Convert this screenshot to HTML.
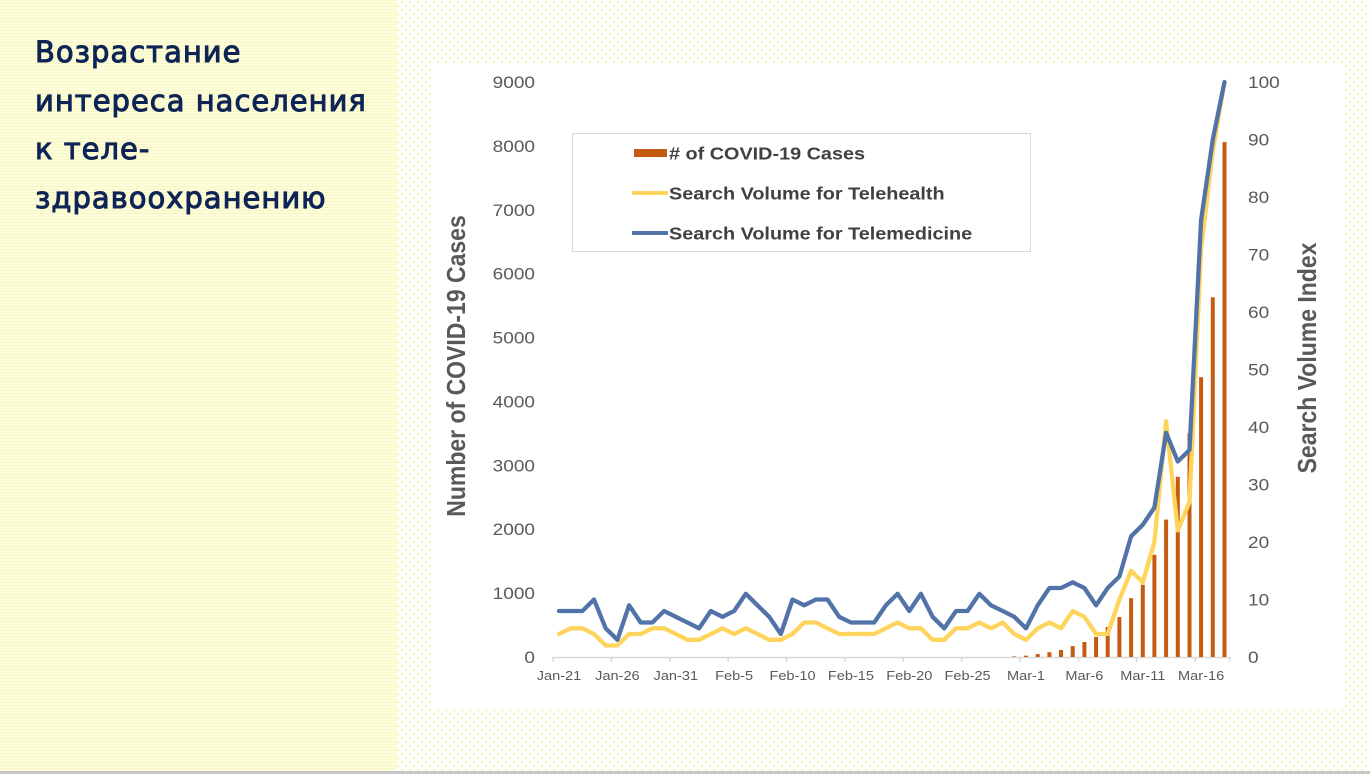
<!DOCTYPE html>
<html>
<head>
<meta charset="utf-8">
<style>
  html, body { margin: 0; padding: 0; }
  body { width: 1370px; height: 774px; overflow: hidden; background: #ffffff; }
  svg { display: block; }
</style>
</head>
<body>
<svg width="1370" height="774" viewBox="0 0 1370 774" xmlns="http://www.w3.org/2000/svg">
  <defs>
    <pattern id="dots" x="0" y="0" width="8" height="8" patternUnits="userSpaceOnUse">
      <rect width="8" height="8" fill="#ffffff"/>
      <rect x="1.5" y="1.5" width="1.6" height="1.6" fill="#e6ef86"/>
      <rect x="5.5" y="5.5" width="1.6" height="1.6" fill="#e6ef86"/>
    </pattern>
    <pattern id="stripes" x="0" y="0" width="4" height="3" patternUnits="userSpaceOnUse">
      <rect width="4" height="3" fill="#fdfdd9"/>
      <rect y="0" width="4" height="1" fill="#f7f7c6"/>
    </pattern>
  </defs>

  <!-- backgrounds -->
  <rect x="0" y="0" width="1370" height="774" fill="url(#dots)"/>
  <rect x="0" y="0" width="397" height="774" fill="url(#stripes)"/>
  <rect x="0" y="771" width="1370" height="3" fill="#c6c6c6"/>

  <!-- title -->
  <g font-family="DejaVu Sans, Liberation Sans, sans-serif" font-size="29" fill="#0e2456" stroke="#0e2456" stroke-width="1.0" letter-spacing="1.0">
    <text x="35" y="62">Возрастание</text>
    <text x="35" y="111">интереса населения</text>
    <text x="35" y="159">к теле-</text>
    <text x="35" y="208">здравоохранению</text>
  </g>

  <!-- chart white box -->
  <rect x="432" y="65" width="911" height="642" fill="#ffffff"/>

  <!-- legend -->
  <rect x="572.5" y="133.5" width="458" height="118" fill="#ffffff" stroke="#d9d9d9" stroke-width="1"/>
  <rect x="634" y="149" width="33" height="8" fill="#c55a11"/>
  <line x1="632" y1="193" x2="668" y2="193" stroke="#ffd45c" stroke-width="4"/>
  <line x1="632" y1="233" x2="668" y2="233" stroke="#5273a8" stroke-width="4"/>
  <g font-family="Liberation Sans, Arial, sans-serif" font-size="17.7" font-weight="bold" fill="#404040">
    <text transform="translate(669 159.5) scale(1.12 1)"># of COVID-19 Cases</text>
    <text transform="translate(669 199.5) scale(1.12 1)">Search Volume for Telehealth</text>
    <text transform="translate(669 239.5) scale(1.12 1)">Search Volume for Telemedicine</text>
  </g>

  <!-- x axis -->
  <line x1="553" y1="657.5" x2="1230" y2="657.5" stroke="#d9d9d9" stroke-width="1.5"/>
  <g stroke="#d9d9d9" stroke-width="1.5">
    <line x1="553" y1="657" x2="553" y2="662"/>
    <line x1="611.4" y1="657" x2="611.4" y2="662"/>
    <line x1="669.8" y1="657" x2="669.8" y2="662"/>
    <line x1="728.1" y1="657" x2="728.1" y2="662"/>
    <line x1="786.5" y1="657" x2="786.5" y2="662"/>
    <line x1="844.9" y1="657" x2="844.9" y2="662"/>
    <line x1="903.3" y1="657" x2="903.3" y2="662"/>
    <line x1="961.6" y1="657" x2="961.6" y2="662"/>
    <line x1="1020" y1="657" x2="1020" y2="662"/>
    <line x1="1078.4" y1="657" x2="1078.4" y2="662"/>
    <line x1="1136.8" y1="657" x2="1136.8" y2="662"/>
    <line x1="1195.1" y1="657" x2="1195.1" y2="662"/>
    <line x1="1230" y1="657" x2="1230" y2="662"/>
  </g>
  <g font-family="Liberation Sans, Arial, sans-serif" font-size="13" fill="#595959" text-anchor="middle">
    <text transform="translate(559 680) scale(1.12 1)">Jan-21</text>
    <text transform="translate(617.4 680) scale(1.12 1)">Jan-26</text>
    <text transform="translate(675.8 680) scale(1.12 1)">Jan-31</text>
    <text transform="translate(734.1 680) scale(1.12 1)">Feb-5</text>
    <text transform="translate(792.5 680) scale(1.12 1)">Feb-10</text>
    <text transform="translate(850.9 680) scale(1.12 1)">Feb-15</text>
    <text transform="translate(909.3 680) scale(1.12 1)">Feb-20</text>
    <text transform="translate(967.6 680) scale(1.12 1)">Feb-25</text>
    <text transform="translate(1026 680) scale(1.12 1)">Mar-1</text>
    <text transform="translate(1084.4 680) scale(1.12 1)">Mar-6</text>
    <text transform="translate(1142.8 680) scale(1.12 1)">Mar-11</text>
    <text transform="translate(1201.1 680) scale(1.12 1)">Mar-16</text>
  </g>

  <!-- left axis labels -->
  <g font-family="Liberation Sans, Arial, sans-serif" font-size="17" fill="#595959" text-anchor="end">
    <text transform="translate(535 663) scale(1.12 1)">0</text>
    <text transform="translate(535 599.1) scale(1.12 1)">1000</text>
    <text transform="translate(535 535.2) scale(1.12 1)">2000</text>
    <text transform="translate(535 471.3) scale(1.12 1)">3000</text>
    <text transform="translate(535 407.4) scale(1.12 1)">4000</text>
    <text transform="translate(535 343.6) scale(1.12 1)">5000</text>
    <text transform="translate(535 279.7) scale(1.12 1)">6000</text>
    <text transform="translate(535 215.8) scale(1.12 1)">7000</text>
    <text transform="translate(535 151.9) scale(1.12 1)">8000</text>
    <text transform="translate(535 88) scale(1.12 1)">9000</text>
  </g>

  <!-- right axis labels -->
  <g font-family="Liberation Sans, Arial, sans-serif" font-size="17" fill="#595959" text-anchor="start">
    <text transform="translate(1248 663) scale(1.12 1)">0</text>
    <text transform="translate(1248 605.5) scale(1.12 1)">10</text>
    <text transform="translate(1248 548) scale(1.12 1)">20</text>
    <text transform="translate(1248 490.5) scale(1.12 1)">30</text>
    <text transform="translate(1248 433) scale(1.12 1)">40</text>
    <text transform="translate(1248 375.5) scale(1.12 1)">50</text>
    <text transform="translate(1248 318) scale(1.12 1)">60</text>
    <text transform="translate(1248 260.5) scale(1.12 1)">70</text>
    <text transform="translate(1248 203) scale(1.12 1)">80</text>
    <text transform="translate(1248 145.5) scale(1.12 1)">90</text>
    <text transform="translate(1248 88) scale(1.12 1)">100</text>
  </g>

  <!-- axis titles -->
  <g font-family="Liberation Sans, Arial, sans-serif" font-size="23" font-weight="bold" fill="#595959" text-anchor="middle">
    <text transform="translate(465 366) scale(1.12 1) rotate(-90)">Number of COVID-19 Cases</text>
    <text transform="translate(1316 358) scale(1.12 1) rotate(-90)">Search Volume Index</text>
  </g>

  <!-- bars -->
  <g fill="#c55a11">
    <rect x="1012.3" y="656.4" width="4" height="0.6"/>
    <rect x="1024" y="655.7" width="4" height="1.3"/>
    <rect x="1035.7" y="654.1" width="4" height="2.9"/>
    <rect x="1047.4" y="652.2" width="4" height="4.8"/>
    <rect x="1059" y="650" width="4" height="7"/>
    <rect x="1070.7" y="646.1" width="4" height="10.9"/>
    <rect x="1082.4" y="642" width="4" height="15"/>
    <rect x="1094.1" y="636.9" width="4" height="20.1"/>
    <rect x="1105.7" y="627" width="4" height="30"/>
    <rect x="1117.4" y="617.1" width="4" height="39.9"/>
    <rect x="1129.1" y="598.2" width="4" height="58.8"/>
    <rect x="1140.8" y="584.8" width="4" height="72.2"/>
    <rect x="1152.4" y="554.8" width="4" height="102.2"/>
    <rect x="1164.1" y="519.6" width="4" height="137.4"/>
    <rect x="1175.8" y="476.8" width="4" height="180.2"/>
    <rect x="1187.5" y="433.4" width="4" height="223.6"/>
    <rect x="1199.1" y="377.2" width="4" height="279.8"/>
    <rect x="1210.8" y="297.3" width="4" height="359.7"/>
    <rect x="1222.5" y="142.1" width="4" height="514.9"/>
  </g>

  <!-- telehealth (yellow) -->
  <polyline fill="none" stroke="#ffd45c" stroke-width="4.3" stroke-linejoin="round" stroke-linecap="round"
    points="559,634 570.7,628.3 582.4,628.3 594,634 605.7,645.5 617.4,645.5 629.1,634 640.7,634 652.4,628.3 664.1,628.3 675.8,634 687.4,639.8 699.1,639.8 710.8,634 722.5,628.3 734.1,634 745.8,628.3 757.5,634 769.2,639.8 780.8,639.8 792.5,634 804.2,622.5 815.9,622.5 827.5,628.3 839.2,634 850.9,634 862.6,634 874.2,634 885.9,628.3 897.6,622.5 909.3,628.3 920.9,628.3 932.6,639.8 944.3,639.8 956,628.3 967.6,628.3 979.3,622.5 991,628.3 1002.7,622.5 1014.3,634 1026,639.8 1037.7,628.3 1049.4,622.5 1061,628.3 1072.7,611 1084.4,616.8 1096.1,634 1107.7,634 1119.4,599.5 1131.1,570.8 1142.8,582.3 1154.4,542 1166.1,421.3 1177.8,530.5 1189.5,501.8 1201.1,248.8 1212.8,151 1224.5,82"/>

  <!-- telemedicine (blue) -->
  <polyline fill="none" stroke="#5273a8" stroke-width="4.3" stroke-linejoin="round" stroke-linecap="round"
    points="559,611 570.7,611 582.4,611 594,599.5 605.7,628.3 617.4,639.8 629.1,605.3 640.7,622.5 652.4,622.5 664.1,611 675.8,616.8 687.4,622.5 699.1,628.3 710.8,611 722.5,616.8 734.1,611 745.8,593.8 757.5,605.3 769.2,616.8 780.8,634 792.5,599.5 804.2,605.3 815.9,599.5 827.5,599.5 839.2,616.8 850.9,622.5 862.6,622.5 874.2,622.5 885.9,605.3 897.6,593.8 909.3,611 920.9,593.8 932.6,616.8 944.3,628.3 956,611 967.6,611 979.3,593.8 991,605.3 1002.7,611 1014.3,616.8 1026,628.3 1037.7,605.3 1049.4,588 1061,588 1072.7,582.3 1084.4,588 1096.1,605.3 1107.7,588 1119.4,576.5 1131.1,536.3 1142.8,524.8 1154.4,507.5 1166.1,432.8 1177.8,461.5 1189.5,450 1201.1,220 1212.8,139.5 1224.5,82"/>
</svg>
</body>
</html>
